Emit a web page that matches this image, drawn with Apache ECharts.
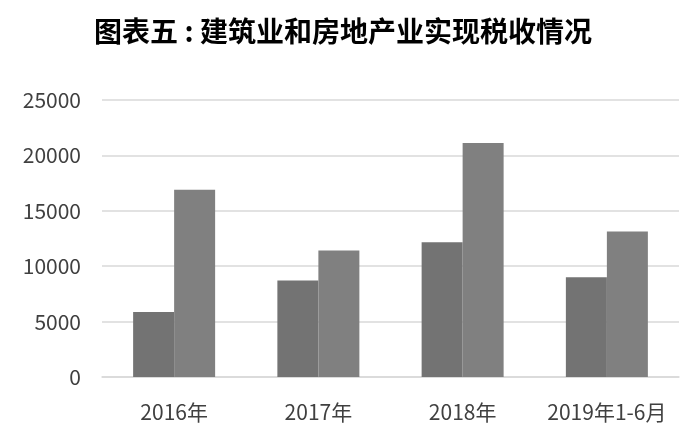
<!DOCTYPE html>
<html><head><meta charset="utf-8">
<script src="https://cdn.jsdelivr.net/npm/echarts@6/dist/echarts.min.js"></script>
<style>html,body{margin:0;padding:0;background:#fff}#c{width:700px;height:441px}</style>
</head><body><div id="c"></div>
<script>
const categories = ['2016年', '2017年', '2018年', '2019年1-6月'];
const construction = [5860, 8710, 12160, 9010];
const realEstate = [16910, 11410, 21120, 13130];
const yTicks = { min: 0, max: 25000, interval: 5000 };

const chart = echarts.init(document.getElementById('c'));
chart.setOption({
  animation: false,
  backgroundColor: '#fff',
  title: {
    text: '图表五 : 建筑业和房地产业实现税收情况',
    left: 338, top: 12, textAlign: 'center',
    textStyle: { fontFamily: 'Noto Sans CJK SC', fontSize: 28, fontWeight: 'bold', color: '#000' }
  },
  grid: { left: 102, right: 21, top: 100, bottom: 64, containLabel: false },
  xAxis: {
    type: 'category', data: categories,
    axisLine: { lineStyle: { color: '#d9d9d9', width: 1.5 } },
    axisTick: { show: false },
    axisLabel: { interval: 0, margin: 25, fontFamily: 'Noto Sans CJK SC', fontSize: 21, color: '#404040' }
  },
  yAxis: {
    type: 'value', min: yTicks.min, max: yTicks.max, interval: yTicks.interval,
    axisLine: { show: false }, axisTick: { show: false },
    splitLine: { lineStyle: { color: '#d9d9d9', width: 1.5 } },
    axisLabel: { margin: 21, fontFamily: 'Noto Sans CJK SC', fontSize: 21, color: '#404040',
      formatter: v => String(v) }
  },
  series: [
    { name: '建筑业', type: 'bar', data: construction, barWidth: 41, barGap: '0%',
      itemStyle: { color: '#737373' } },
    { name: '房地产业', type: 'bar', data: realEstate, barWidth: 41,
      itemStyle: { color: '#808080' } }
  ]
});
</script></body></html>
